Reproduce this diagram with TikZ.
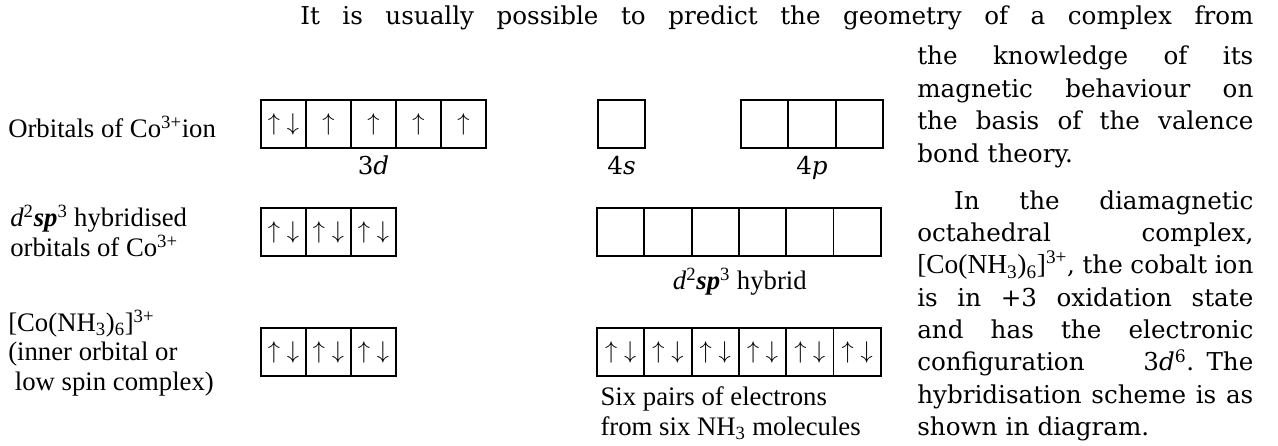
\documentclass[tikz,border=0pt]{standalone}
\usepackage{fontspec}
\setmainfont{DejaVu Serif}
\newfontfamily\labfont{Liberation Serif}
\usetikzlibrary{positioning}

\newcommand{\spinpair}{$\uparrow\;\downarrow$}
\newcommand{\spinup}{$\uparrow$}
\newcommand{\fullline}[2][8.4cm]{\makebox[#1][s]{\spaceskip=0pt\relax #2}}

\tikzset{
  orb/.style={draw, line width=1.3pt, minimum width=1.125cm, minimum height=1.2cm, inner sep=0pt, font=\fontsize{18}{20}\selectfont},
  orbwide/.style={orb, minimum width=1.183cm},
  lab/.style={font=\labfont\fontsize{19}{21}\selectfont, inner sep=0pt, align=left},
  sub/.style={font=\fontsize{17.5}{20}\selectfont, inner sep=0pt},
  body/.style={font=\fontsize{17.5}{23}\selectfont, inner sep=0pt}
}

\begin{document}
\begin{tikzpicture}[x=0.025cm, y=-0.025cm]
\useasboundingbox (0,0) rectangle (1278,446);

% Co3+ ion: 3d, 4s, 4p
\foreach \i/\e in {1/\spinpair,2/\spinup,3/\spinup,4/\spinup,5/\spinup}
  \node[orb] (d\i) at ({238.5+45*\i},124) {\e};
\node[orbwide] (s1) at (621.5,124) {};
\foreach \i in {1,2,3}
  \node[orbwide] (p\i) at ({717.35+47.3*\i},124) {};

% d2sp3 hybridised orbitals
\foreach \i in {1,2,3}
  \node[orb] (hd\i) at ({238.5+45*\i},232) {\spinpair};
\foreach \i in {1,...,6}
  \node[orbwide] (hy\i) at ({573.35+47.3*\i},232) {};

% [Co(NH3)6]3+
\foreach \i in {1,2,3}
  \node[orb] (cd\i) at ({238.5+45*\i},352) {\spinpair};
\foreach \i in {1,...,6}
  \node[orbwide] (cy\i) at ({573.35+47.3*\i},352) {\spinpair};

% labels under the boxes
\node[sub, below=5pt of d3] (l3d) {3\textit{d}};
\node[sub, below=5pt of s1] (l4s) {4\textit{s}};
\node[sub, below=5pt of p2] (l4p) {4\textit{p}};
\node[lab, below=8pt of hy3.south east] (lhyb) {\textit{d}\textsuperscript{2}\textbf{\textit{sp}}\textsuperscript{3} hybrid};
\node[lab, anchor=north west] (lpairs) at ([xshift=3pt,yshift=-7pt]cy1.south west)
  {Six pairs of electrons\\from six NH\textsubscript{3} molecules};

% row labels
\node[lab, anchor=west] (lion) at (8,127) {Orbitals of Co\textsuperscript{3+}ion};
\node[lab, anchor=west] (lhy) at (10,231)
  {\textit{d}\textsuperscript{2}\textbf{\textit{sp}}\textsuperscript{3} hybridised\\orbitals of Co\textsuperscript{3+}};
\node[lab, anchor=west] (lcx) at (8,353)
  {[Co(NH\textsubscript{3})\textsubscript{6}]\textsuperscript{3+}\\(inner orbital or\\\hspace*{0.25em}low spin complex)};

% text beside the diagram
\node[body, anchor=base west] (intro) at (300,25)
  {\fullline[23.825cm]{It is usually possible to predict the geometry of a complex from}};
\node[body, anchor=north west, text width=8.4cm, align=left] (para) at (917,46)
  {\fullline{the knowledge of its}\\
   \fullline{magnetic behaviour on}\\
   \fullline{the basis of the valence}\\
   bond theory.\\[10.5pt]
   \fullline{\hspace*{1.5em}In the diamagnetic}\\
   \fullline{octahedral complex,}\\
   \fullline{{\labfont\fontsize{19.5}{23}\selectfont [Co(NH\textsubscript{3})\textsubscript{6}]\textsuperscript{3+}}, the cobalt ion}\\
   \fullline{is in +3 oxidation state}\\
   \fullline{and has the electronic}\\
   \fullline{configuration 3\textit{d}\textsuperscript{6}. The}\\
   \fullline{hybridisation scheme is as}\\
   shown in diagram.};
\end{tikzpicture}
\end{document}
